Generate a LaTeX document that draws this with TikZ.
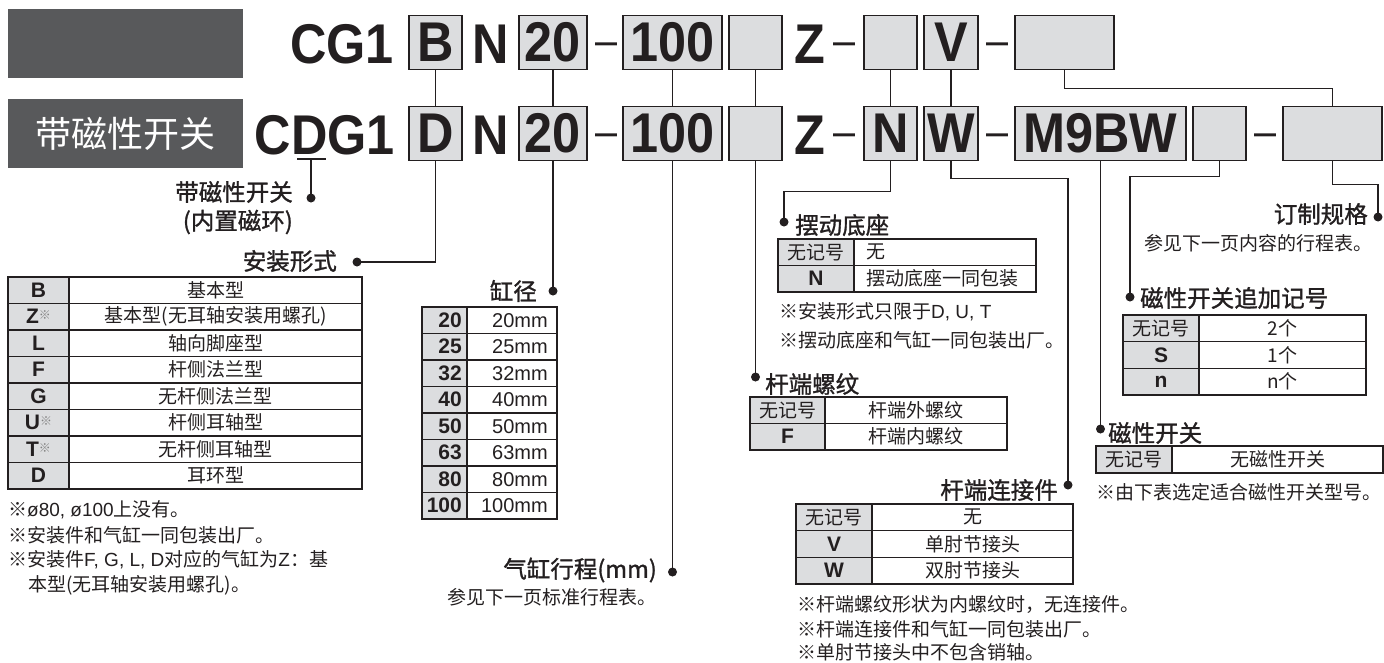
\documentclass[tikz,border=0pt]{standalone}
\usepackage{fontspec}
\setmainfont{Noto Sans CJK SC}
\newfontfamily\codef{Liberation Sans}[FakeStretch=0.9]
\newfontfamily\latf{Liberation Sans}
\newfontfamily\hdf{Noto Sans CJK SC}[FakeBold=1.2]
\definecolor{ink}{HTML}{231F20}
\definecolor{dk}{HTML}{58595B}
\definecolor{lg}{HTML}{DCDDDF}
\newcommand\kmark{\raisebox{4pt}{\normalfont\fontsize{12}{12}\selectfont\color{gray}※}}
\newcommand\ltn[1]{{\latf #1}}
\tikzset{
  cbox/.style={draw=ink, line width=1.8pt, fill=lg, minimum height=54pt, inner sep=0pt,
    font=\codef\bfseries\fontsize{56}{56}\selectfont, text=ink},
  ctext/.style={inner sep=0pt, font=\codef\bfseries\fontsize{56}{56}\selectfont, text=ink},
  dashtext/.style={inner sep=0pt, anchor=base, font=\codef\fontsize{44}{44}\selectfont, text=ink},
  conn/.style={draw=ink, line width=1.6pt},
  dot/.style={circle, fill=ink, inner sep=0pt, minimum size=9pt},
  head/.style={font=\hdf\fontsize{23.5}{23.5}\selectfont, text=ink, inner sep=0pt},
  bt/.style={font=\fontsize{19}{19}\selectfont, text=ink, inner sep=0pt},
  key/.style={font=\latf\bfseries\fontsize{21}{21}\selectfont, text=ink, inner sep=0pt},
  num/.style={font=\latf\fontsize{20}{20}\selectfont, text=ink, inner sep=0pt},
  tl/.style={draw=ink, line width=1.1pt},
  tt/.style={draw=ink, line width=2pt},
  dkbox/.style={fill=dk, inner sep=0pt, minimum height=69pt, minimum width=235pt}
}
\begin{document}
\begin{tikzpicture}[x=1pt,y=-1pt]
\useasboundingbox (0,0) rectangle (1384,662);

% dark title boxes
\node[dkbox] (dk1) at (125.5,43.5) {};
\node[dkbox, font=\fontsize{36}{36}\selectfont, text=white] (dk2) at (125.5,133.5) {带磁性开关};

% ---- row 1 ----
\node[ctext, anchor=base east] (cg1) at (394,63) {CG1};
\node[cbox, minimum width=53pt] (r1b) at (435.5,42.5) {B};
\node[ctext, anchor=base] (r1n) at (491,63) {N};
\node[cbox, minimum width=68pt] (r1bore) at (553,42.5) {20};
\node[dashtext] (r1d1) at (607,55) {–};
\node[cbox, minimum width=99pt] (r1st) at (672.5,42.5) {100};
\node[cbox, minimum width=53pt] (r1e) at (755.5,42.5) {};
\node[ctext, anchor=base] (r1z) at (809.5,63) {Z};
\node[dashtext] (r1d2) at (845,55) {–};
\node[cbox, minimum width=53pt] (r1m) at (890.5,42.5) {};
\node[cbox, minimum width=54pt] (r1v) at (951,42.5) {V};
\node[dashtext] (r1d3) at (997,55) {–};
\node[cbox, minimum width=99pt] (r1x) at (1064.5,42.5) {};

% ---- row 2 ----
\node[ctext, anchor=base east] (cdg1) at (395,154) {CDG1};
\node[cbox, minimum width=53pt] (r2b) at (435.5,133.5) {D};
\node[ctext, anchor=base] (r2n) at (491,154) {N};
\node[cbox, minimum width=68pt] (r2bore) at (553,133.5) {20};
\node[dashtext] (r2d1) at (607,146) {–};
\node[cbox, minimum width=99pt] (r2st) at (672.5,133.5) {100};
\node[cbox, minimum width=53pt] (r2e) at (755.5,133.5) {};
\node[ctext, anchor=base] (r2z) at (809.5,154) {Z};
\node[dashtext] (r2d2) at (845,146) {–};
\node[cbox, minimum width=53pt] (r2m) at (890.5,133.5) {N};
\node[cbox, minimum width=54pt] (r2v) at (951,133.5) {W};
\node[dashtext] (r2d3) at (997,146) {–};
\node[cbox, minimum width=171pt] (r2sw) at (1100.5,133.5) {M9BW};
\node[cbox, minimum width=53pt] (r2sn) at (1219.5,133.5) {};
\node[dashtext] (r2d4) at (1265,146) {–};
\node[cbox, minimum width=99pt] (r2x) at (1332.5,133.5) {};

% row1 -> row2 connectors
\draw[conn] (r1b.south) -- (r2b.north);
\draw[conn] (r1bore.south) -- (r2bore.north);
\draw[conn] (r1st.south) -- (r2st.north);
\draw[conn] (r1e.south) -- (r2e.north);
\draw[conn] (r1m.south) -- (r2m.north);
\draw[conn] (r1v.south) -- (r2v.north);
\draw[conn] (r1x.south) -- ++(0,18) -| (r2x.north);

% dots
\node[dot] (dA) at (311,198) {};
\node[dot] (dB) at (357,262) {};
\node[dot] (dC) at (553,291) {};
\node[dot] (dD) at (672.5,572) {};
\node[dot] (dE) at (784,222) {};
\node[dot] (dF) at (755.5,377) {};
\node[dot] (dG) at (1068,485) {};
\node[dot] (dH) at (1100.5,429) {};
\node[dot] (dI) at (1130,297) {};
\node[dot] (dJ) at (1378,217) {};

% underline of D in CDG1 and its leader
\coordinate (ulL) at (297,159);
\coordinate (ulR) at (326,159);
\coordinate (ulM) at (311,159);
\draw[conn] (ulL) -- (ulR);
\draw[conn] (ulM) -- (dA.center);

% leaders from row 2
\draw[conn] (dB.center) -| (r2b.south);
\draw[conn] (r2bore.south) -- (dC.center);
\draw[conn] (r2st.south) -- (dD.center);
\draw[conn] (r2e.south) -- (dF.center);
\draw[conn] (r2m.south) -- ++(0,30) -| (dE.center);
\draw[conn] (r2v.south) -- ++(0,17) -| (dG.center);
\draw[conn] (r2sw.south) -- (dH.center);
\draw[conn] (r2sn.south) -- ++(0,15) -| (dI.center);
\draw[conn] (r2x.south) -- ++(0,23) -| (dJ.center);

% ---- labels ----
\node[head, anchor=east] (lA1) at (293,192) {带磁性开关};
\node[head, anchor=east] (lA2) at (293,222) {(内置磁环)};
\node[head, anchor=east] (lB) at (337,261) {安装形式};
\node[head, anchor=east] (lC) at (537,291) {缸径};
\node[head, anchor=east] (lD) at (657,570) {气缸行程(mm)};
\node[bt, anchor=east] (lD2) at (657,597) {参见下一页标准行程表。};
\node[head, anchor=west] (lE) at (795,225) {摆动底座};
\node[head, anchor=west] (lF) at (765,384) {杆端螺纹};
\node[head, anchor=east] (lG) at (1058,490) {杆端连接件};
\node[head, anchor=west] (lH) at (1108,433) {磁性开关};
\node[head, anchor=west] (lI) at (1140,298) {磁性开关追加记号};
\node[head, anchor=east] (lJ) at (1368,214) {订制规格};
\node[bt, anchor=east] (lJ2) at (1373,243) {参见下一页内容的行程表。};

% ---- table: mounting ----
\fill[lg] (8,277) rectangle (69,489);
\draw[tl] (8,277) rectangle (362,489) (69,277) -- (69,489);
\foreach \r in {1,...,7} \draw[tl] (8,{277+26.5*\r}) -- (362,{277+26.5*\r});
\draw[tt] (8,277) -- (362,277);
\foreach \k/\v [count=\i] in {B/基本型, Z\kmark/基本型(无耳轴安装用螺孔), L/轴向脚座型, F/杆侧法兰型, G/无杆侧法兰型, U\kmark/杆侧耳轴型, T\kmark/无杆侧耳轴型, D/耳环型} {
  \node[key] (ta-k\i) at (38.5,{277+26.5*(\i-0.5)}) {\k};
  \node[bt] (ta-v\i) at (215.5,{277+26.5*(\i-0.5)}) {\v};
}
\node[bt, anchor=west] (na1) at (8,510) {※\ltn{ø80, ø100}上没有。};
\node[bt, anchor=west] (na2) at (8,535) {※安装件和气缸一同包装出厂。};
\node[bt, anchor=west] (na3) at (8,560) {※安装件\ltn{F, G, L, D}对应的气缸为\ltn{Z}：基};
\node[bt, anchor=west] (na4) at (28,585) {本型(无耳轴安装用螺孔)。};

% ---- table: bore ----
\fill[lg] (422,307) rectangle (467,519);
\draw[tl] (422,307) rectangle (557,519) (467,307) -- (467,519);
\foreach \r in {1,...,7} \draw[tl] (422,{307+26.5*\r}) -- (557,{307+26.5*\r});
\draw[tt] (422,307) -- (557,307);
\foreach \k [count=\i] in {20,25,32,40,50,63,80,100} {
  \node[key, anchor=east] (tb-k\i) at (462,{307+26.5*(\i-0.5)}) {\k};
  \node[num, anchor=east] (tb-v\i) at (548,{307+26.5*(\i-0.5)}) {\k mm};
}

% ---- table: pivot bracket ----
\fill[lg] (778,239) rectangle (854,292);
\draw[tl] (778,239) rectangle (1036,292) (854,239) -- (854,292) (778,265.5) -- (1036,265.5);
\draw[tt] (778,239) -- (1036,239);
\node[bt] (tc-k1) at (816,252.25) {无记号};
\node[bt, anchor=west] (tc-v1) at (866,252.25) {无};
\node[key] (tc-k2) at (816,278.75) {N};
\node[bt, anchor=west] (tc-v2) at (866,278.75) {摆动底座一同包装};
\node[bt, anchor=west] (nc1) at (779,312) {※安装形式只限于\ltn{D, U, T}};
\node[bt, anchor=west] (nc2) at (779,340) {※摆动底座和气缸一同包装出厂。};

% ---- table: rod end thread ----
\fill[lg] (750,397) rectangle (825,450);
\draw[tl] (750,397) rectangle (1007,450) (825,397) -- (825,450) (750,423.5) -- (1007,423.5);
\draw[tt] (750,397) -- (1007,397);
\node[bt] (td-k1) at (787.5,410.25) {无记号};
\node[bt] (td-v1) at (916,410.25) {杆端外螺纹};
\node[key] (td-k2) at (787.5,436.75) {F};
\node[bt] (td-v2) at (916,436.75) {杆端内螺纹};

% ---- table: rod end bracket ----
\fill[lg] (796,504) rectangle (872,584);
\draw[tl] (796,504) rectangle (1073,584) (872,504) -- (872,584) (796,530.67) -- (1073,530.67) (796,557.33) -- (1073,557.33);
\draw[tt] (796,504) -- (1073,504);
\node[bt] (te-k1) at (834,517.33) {无记号};
\node[bt] (te-v1) at (972.5,517.33) {无};
\node[key] (te-k2) at (834,544) {V};
\node[bt] (te-v2) at (972.5,544) {单肘节接头};
\node[key] (te-k3) at (834,570.67) {W};
\node[bt] (te-v3) at (972.5,570.67) {双肘节接头};
\node[bt, anchor=west] (ne1) at (797,605) {※杆端螺纹形状为内螺纹时，无连接件。};
\node[bt, anchor=west] (ne2) at (797,629) {※杆端连接件和气缸一同包装出厂。};
\node[bt, anchor=west] (ne3) at (797,652) {※单肘节接头中不包含销轴。};

% ---- table: number of switches ----
\fill[lg] (1123,315) rectangle (1199,395);
\draw[tl] (1123,315) rectangle (1366,395) (1199,315) -- (1199,395) (1123,341.67) -- (1366,341.67) (1123,368.33) -- (1366,368.33);
\draw[tt] (1123,315) -- (1366,315);
\node[bt] (tf-k1) at (1161,328.33) {无记号};
\node[bt] (tf-v1) at (1282.5,328.33) {2个};
\node[key] (tf-k2) at (1161,355) {S};
\node[bt] (tf-v2) at (1282.5,355) {1个};
\node[key] (tf-k3) at (1161,381.67) {n};
\node[bt] (tf-v3) at (1282.5,381.67) {n个};

% ---- table: auto switch ----
\fill[lg] (1096,446) rectangle (1172,473);
\draw[tl] (1096,446) rectangle (1383,473) (1172,446) -- (1172,473);
\draw[tt] (1096,446) -- (1383,446);
\node[bt] (tg-k1) at (1134,459.5) {无记号};
\node[bt] (tg-v1) at (1277.5,459.5) {无磁性开关};
\node[bt, anchor=west] (ng1) at (1096,492) {※由下表选定适合磁性开关型号。};
\end{tikzpicture}
\end{document}
